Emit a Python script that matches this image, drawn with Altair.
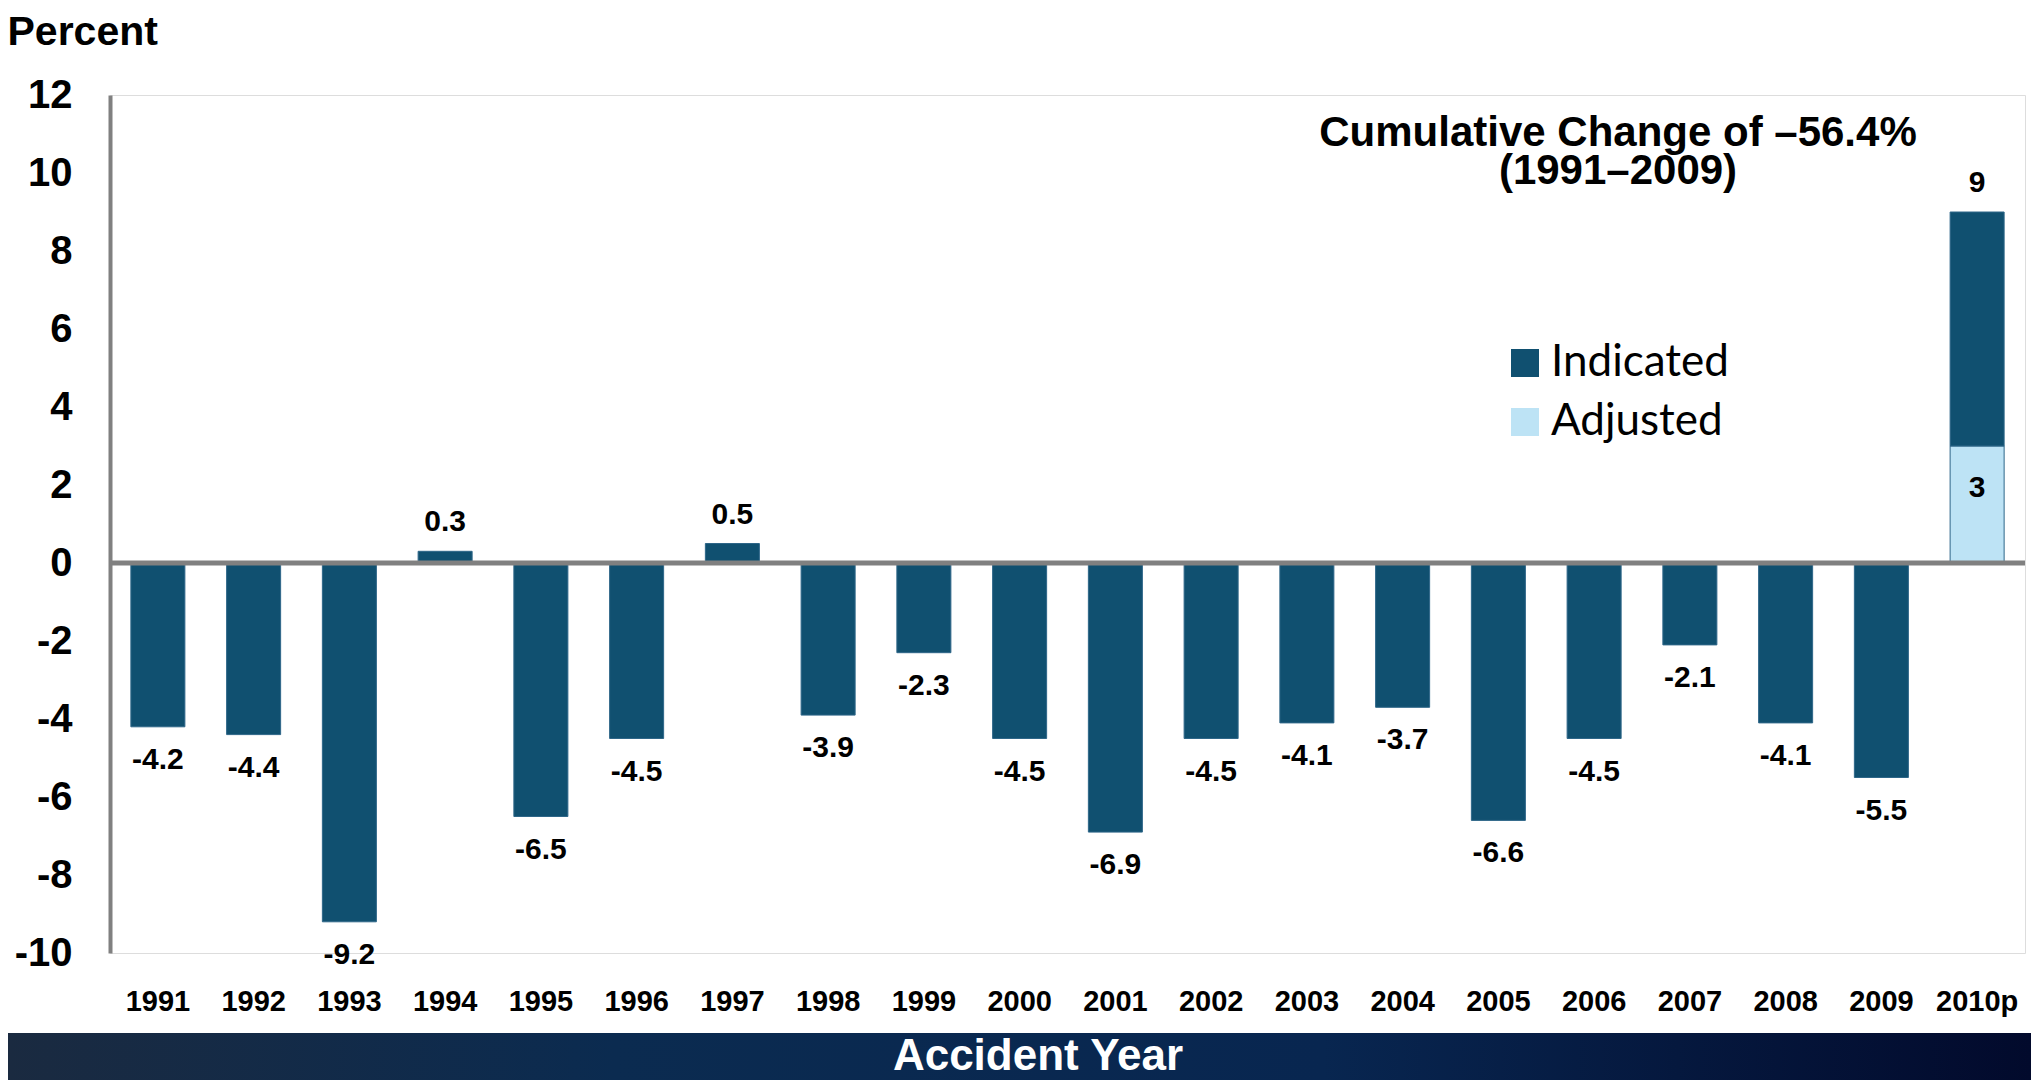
import altair as alt
import pandas as pd

years = ["1991", "1992", "1993", "1994", "1995", "1996", "1997", "1998", "1999", "2000",
         "2001", "2002", "2003", "2004", "2005", "2006", "2007", "2008", "2009", "2010p"]
indicated = [-4.2, -4.4, -9.2, 0.3, -6.5, -4.5, 0.5, -3.9, -2.3, -4.5,
             -6.9, -4.5, -4.1, -3.7, -6.6, -4.5, -2.1, -4.1, -5.5, 9]
adjusted_2010 = 3
series_names = ["Indicated", "Adjusted"]
series_colors = ["#105070", "#BDE3F5"]
y_ticks = [-10, -8, -6, -4, -2, 0, 2, 4, 6, 8, 10, 12]
note_lines = ["Cumulative Change of \u201356.4%", "(1991\u20132009)"]
x_title = "Accident Year"
y_title = "Percent"

FONT = "Liberation Sans"

# bar table
rows = []
for yr, v in zip(years, indicated):
    if yr == "2010p":
        rows.append({"year": yr, "series": "Adjusted", "start": 0, "end": adjusted_2010})
        rows.append({"year": yr, "series": "Indicated", "start": adjusted_2010, "end": v})
    else:
        rows.append({"year": yr, "series": "Indicated", "start": 0, "end": v})
bars_df = pd.DataFrame(rows)

lab = pd.DataFrame({"year": years, "value": indicated,
                    "text": [("%g" % v) if abs(v - round(v)) > 1e-9 else str(int(v)) for v in indicated]})
pos_df = lab[lab.value > 0]
neg_df = lab[lab.value < 0]
adj_df = pd.DataFrame({"year": ["2010p"], "value": [adjusted_2010], "text": [str(adjusted_2010)]})

xscale = alt.Scale(domain=years, paddingInner=0.436, paddingOuter=0.218)
yscale = alt.Scale(domain=[-10, 12], nice=False, zero=False)

x_enc = alt.X("year:N", scale=xscale, sort=years,
              axis=alt.Axis(title=None, labelAngle=0, labelFont=FONT, labelFontSize=29,
                            labelFontWeight="bold", labelColor="black", labelPadding=34,
                            domain=False, ticks=False))

bars = alt.Chart(bars_df).mark_bar(stroke="#2e6688", strokeWidth=1).encode(
    x=x_enc,
    y=alt.Y("start:Q", scale=yscale,
            axis=alt.Axis(values=y_ticks, title=y_title, titleAngle=0, titleAlign="left",
                          titleBaseline="alphabetic", titleX=-103, titleY=-51,
                          titleFont=FONT, titleFontSize=41, titleFontWeight="bold", titleColor="black",
                          labelFont=FONT, labelFontSize=40, labelFontWeight="bold", labelColor="black",
                          labelExpr="'' + datum.value",
                          labelPadding=38, ticks=False, grid=False, domain=True,
                          domainColor="#808080", domainWidth=4)),
    y2="end:Q",
    color=alt.Color("series:N", scale=alt.Scale(domain=series_names, range=series_colors),
                    legend=alt.Legend(orient="none", legendX=1393, legendY=246, title=None,
                                      symbolType="square", symbolSize=784, symbolStrokeWidth=0,
                                      symbolOpacity=1, labelFont="Lato", labelFontSize=44,
                                      labelLimit=0, labelColor="black", labelOffset=4,
                                      rowPadding=15, padding=0)),
)

zero = alt.Chart(pd.DataFrame({"z": [0]})).mark_rule(color="#808080", strokeWidth=5).encode(
    y=alt.Y("z:Q", scale=yscale), x=alt.value(0), x2=alt.value(1915))

txt_kw = dict(font=FONT, fontSize=30, fontWeight="bold", color="black")
pos_t = alt.Chart(pos_df).mark_text(baseline="alphabetic", dy=-20, **txt_kw).encode(
    x=alt.X("year:N", scale=xscale, sort=years), y=alt.Y("value:Q", scale=yscale), text="text:N")
neg_t = alt.Chart(neg_df).mark_text(baseline="top", dy=18, **txt_kw).encode(
    x=alt.X("year:N", scale=xscale, sort=years), y=alt.Y("value:Q", scale=yscale), text="text:N")
adj_t = alt.Chart(adj_df).mark_text(baseline="alphabetic", dy=51, **txt_kw).encode(
    x=alt.X("year:N", scale=xscale, sort=years), y=alt.Y("value:Q", scale=yscale), text="text:N")

note_layers = []
for line, ypx in zip(note_lines, [51, 89]):
    note_layers.append(alt.Chart(pd.DataFrame({"t": [line]})).mark_text(
        font=FONT, fontSize=42, fontWeight="bold", color="black", align="center",
        baseline="alphabetic").encode(x=alt.value(1508), y=alt.value(ypx), text="t:N"))

banner = alt.Chart(pd.DataFrame({"a": [0]})).mark_rect(
    fill=alt.Gradient(gradient="linear", x1=0, x2=1, y1=0, y2=0,
                      stops=[alt.GradientStop(offset=0, color="#1a2a40"),
                             alt.GradientStop(offset=0.3, color="#0b2b50"),
                             alt.GradientStop(offset=0.65, color="#082650"),
                             alt.GradientStop(offset=1, color="#020a2c")])).encode(
    x=alt.value(-102), x2=alt.value(1921), y=alt.value(938), y2=alt.value(990))

banner_t = alt.Chart(pd.DataFrame({"t": [x_title]})).mark_text(
    font=FONT, fontSize=44, fontWeight="bold", color="white",
    align="center", baseline="alphabetic").encode(
    x=alt.value(928), y=alt.value(975), text="t:N")

chart = alt.layer(bars, zero, pos_t, neg_t, adj_t, *note_layers, banner, banner_t).properties(
    width=1915, height=858,
    padding={"left": 102, "top": 87, "right": 6, "bottom": 127},
    autosize=alt.AutoSizeParams(type="none"),
).configure_view(stroke=None).configure(background="white")

chart.save("out.html", embed_options={"renderer": "svg", "actions": False})
